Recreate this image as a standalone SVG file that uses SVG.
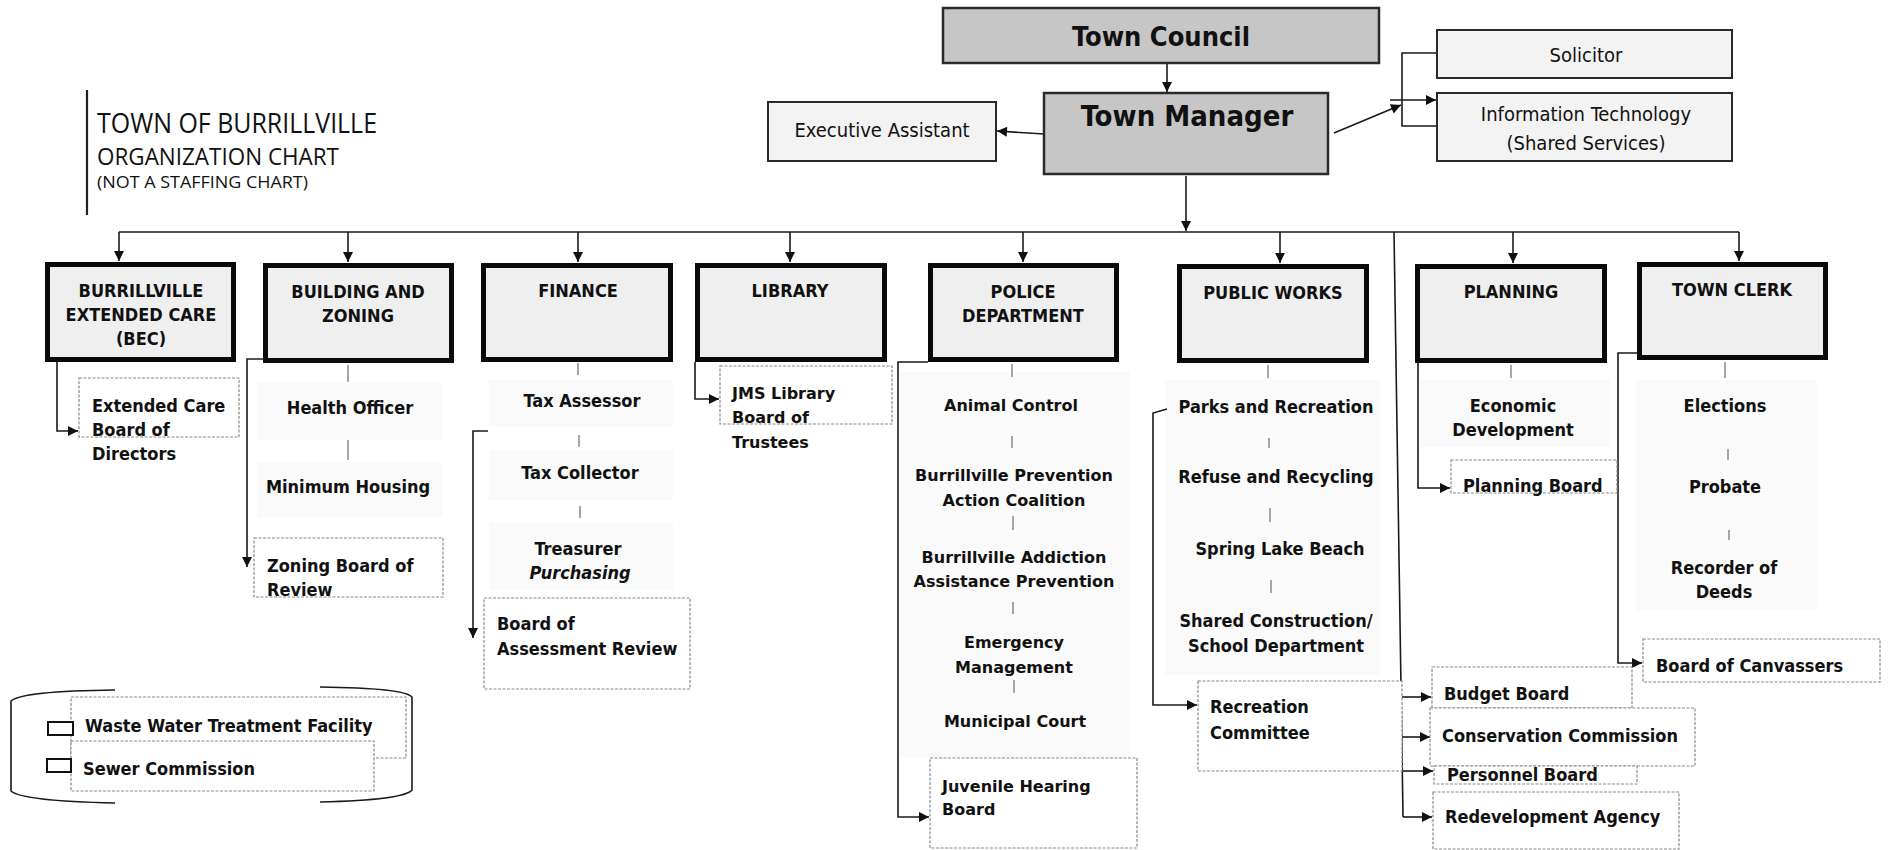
<svg xmlns="http://www.w3.org/2000/svg" width="1890" height="850" viewBox="0 0 1890 850">
<defs>
<marker id="ah" viewBox="0 0 10 10" refX="10" refY="5" markerWidth="12" markerHeight="10" markerUnits="userSpaceOnUse" orient="auto">
<path d="M0,0 L10,5 L0,10 z" fill="#111"/>
</marker>
<style>
.cb{font-family:"DejaVu Sans Condensed","DejaVu Sans",sans-serif;font-stretch:condensed;font-weight:bold;fill:#111}
.cn{font-family:"DejaVu Sans Condensed","DejaVu Sans",sans-serif;font-stretch:condensed;font-weight:normal;fill:#111}
.wb{font-family:"DejaVu Sans",sans-serif;font-weight:bold;fill:#111}
.lt{font-family:"Open Sans","Liberation Sans",sans-serif;font-weight:400;fill:#111}
.top{fill:#c6c6c6;stroke:#2a2a2a;stroke-width:2.5}
.side{fill:#f3f3f3;stroke:#2a2a2a;stroke-width:2}
.dept{fill:#efefef;stroke:#0a0a0a;stroke-width:5}
.sub{fill:#ffffff;stroke:#8a8a8a;stroke-width:1.2;stroke-dasharray:3 1.5}
.shade{fill:#fafafa}
.ln{fill:none;stroke:#1a1a1a;stroke-width:1.6}
.tk{fill:none;stroke:#8a8a8a;stroke-width:1.5}
.c{text-anchor:middle}
</style>
</defs>
<rect width="1890" height="850" fill="#ffffff"/>

<g id="title">
<line x1="87" y1="90" x2="87" y2="215" stroke="#222" stroke-width="2.2"/>
<text class="lt" x="97" y="133" font-size="27" textLength="280" lengthAdjust="spacingAndGlyphs">TOWN OF BURRILLVILLE</text>
<text class="lt" x="97" y="165" font-size="23" textLength="242" lengthAdjust="spacingAndGlyphs">ORGANIZATION CHART</text>
<text class="lt" x="97" y="188" font-size="16" textLength="211" lengthAdjust="spacingAndGlyphs">(NOT A STAFFING CHART)</text>
</g>

<g id="shading">
<rect class="shade" x="257" y="383" width="186" height="57"/>
<rect class="shade" x="257" y="463" width="186" height="54"/>
<rect class="shade" x="489" y="380" width="184" height="47"/>
<rect class="shade" x="489" y="450" width="184" height="50"/>
<rect class="shade" x="489" y="523" width="184" height="67"/>
<rect class="shade" x="900" y="372" width="230" height="386"/>
<rect class="shade" x="1165" y="380" width="215" height="295"/>
<rect class="shade" x="1420" y="380" width="190" height="67"/>
<rect class="shade" x="1636" y="380" width="181" height="230"/>
</g>

<g id="connectors">
<line class="ln" x1="1167" y1="64" x2="1167" y2="92" marker-end="url(#ah)"/>
<line class="ln" x1="1044" y1="134" x2="997" y2="131" marker-end="url(#ah)"/>
<line class="ln" x1="1334" y1="133" x2="1401" y2="105" marker-end="url(#ah)"/>
<polyline class="ln" points="1437,53 1402,53 1402,126 1437,126"/>
<line class="ln" x1="1390" y1="100" x2="1436" y2="100" marker-end="url(#ah)"/>
<line class="ln" x1="1186" y1="176" x2="1186" y2="231" marker-end="url(#ah)"/>
<line class="ln" x1="119" y1="232" x2="1739" y2="232"/>
<line class="ln" x1="119" y1="232" x2="119" y2="261" marker-end="url(#ah)"/>
<line class="ln" x1="348" y1="232" x2="348" y2="262" marker-end="url(#ah)"/>
<line class="ln" x1="578" y1="232" x2="578" y2="262" marker-end="url(#ah)"/>
<line class="ln" x1="790" y1="232" x2="790" y2="262" marker-end="url(#ah)"/>
<line class="ln" x1="1023" y1="232" x2="1023" y2="262" marker-end="url(#ah)"/>
<line class="ln" x1="1280" y1="232" x2="1280" y2="263" marker-end="url(#ah)"/>
<line class="ln" x1="1513" y1="232" x2="1513" y2="263" marker-end="url(#ah)"/>
<line class="ln" x1="1739" y1="232" x2="1739" y2="261" marker-end="url(#ah)"/>
<line class="ln" x1="1394" y1="232" x2="1403" y2="817"/>
<line class="ln" x1="1401" y1="697" x2="1431" y2="697" marker-end="url(#ah)"/>
<line class="ln" x1="1402" y1="737" x2="1430" y2="737" marker-end="url(#ah)"/>
<line class="ln" x1="1402" y1="771" x2="1433" y2="771" marker-end="url(#ah)"/>
<line class="ln" x1="1403" y1="817" x2="1432" y2="817" marker-end="url(#ah)"/>
<polyline class="ln" points="57,362 57,431 78,431" marker-end="url(#ah)"/>
<polyline class="ln" points="263,359 247,359 247,567" marker-end="url(#ah)"/>
<polyline class="ln" points="488,431 473,431 473,638" marker-end="url(#ah)"/>
<polyline class="ln" points="695,362 695,399 719,399" marker-end="url(#ah)"/>
<polyline class="ln" points="928,362 898,362 898,817 929,817" marker-end="url(#ah)"/>
<polyline class="ln" points="1167,409 1153,413 1153,705 1197,705" marker-end="url(#ah)"/>
<polyline class="ln" points="1418,363 1418,488 1450,488" marker-end="url(#ah)"/>
<polyline class="ln" points="1637,353 1618,353 1618,663 1642,663" marker-end="url(#ah)"/>
<line class="tk" x1="348" y1="365" x2="348" y2="382"/>
<line class="tk" x1="348" y1="440" x2="348" y2="460"/>
<line class="tk" x1="578" y1="363" x2="578" y2="375"/>
<line class="tk" x1="579" y1="435" x2="579" y2="447"/>
<line class="tk" x1="580" y1="506" x2="580" y2="518"/>
<line class="tk" x1="1012" y1="364" x2="1012" y2="377"/>
<line class="tk" x1="1012" y1="436" x2="1012" y2="448"/>
<line class="tk" x1="1013" y1="516" x2="1013" y2="530"/>
<line class="tk" x1="1013" y1="602" x2="1013" y2="614"/>
<line class="tk" x1="1014" y1="680" x2="1014" y2="693"/>
<line class="tk" x1="1268" y1="365" x2="1268" y2="378"/>
<line class="tk" x1="1269" y1="438" x2="1269" y2="448"/>
<line class="tk" x1="1270" y1="508" x2="1270" y2="522"/>
<line class="tk" x1="1271" y1="580" x2="1271" y2="593"/>
<line class="tk" x1="1511" y1="365" x2="1511" y2="378"/>
<line class="tk" x1="1725" y1="362" x2="1725" y2="378"/>
<line class="tk" x1="1728" y1="449" x2="1728" y2="460"/>
<line class="tk" x1="1729" y1="530" x2="1729" y2="540"/>
</g>

<g id="town-council"><rect class="top" x="943" y="8" width="436" height="55"/><text class="cb c" x="1161" y="46" font-size="27">Town Council</text></g>
<g id="town-manager"><rect class="top" x="1044" y="93" width="284" height="81"/><text class="cb c" x="1187" y="126" font-size="29">Town Manager</text></g>
<g id="executive-assistant"><rect class="side" x="768" y="102" width="228" height="59"/><text class="cn c" x="882" y="137" font-size="20">Executive Assistant</text></g>
<g id="solicitor"><rect class="side" x="1437" y="30" width="295" height="48"/><text class="cn c" x="1586" y="62" font-size="20">Solicitor</text></g>
<g id="information-technology"><rect class="side" x="1437" y="93" width="295" height="68"/><text class="cn c" x="1586" y="121" font-size="20">Information Technology</text><text class="cn c" x="1586" y="150" font-size="20">(Shared Services)</text></g>

<g id="bec"><rect class="dept" x="47.5" y="264.5" width="186" height="95"/><text class="cb c" x="141" y="297" font-size="18">BURRILLVILLE</text><text class="cb c" x="141" y="321" font-size="18">EXTENDED CARE</text><text class="cb c" x="141" y="345" font-size="18">(BEC)</text></g>
<g id="building-zoning"><rect class="dept" x="265.5" y="265.5" width="186" height="95"/><text class="cb c" x="358" y="298" font-size="18">BUILDING AND</text><text class="cb c" x="358" y="322" font-size="18">ZONING</text></g>
<g id="finance"><rect class="dept" x="483.5" y="265.5" width="187" height="94"/><text class="cb c" x="578" y="297" font-size="18">FINANCE</text></g>
<g id="library"><rect class="dept" x="697.5" y="265.5" width="187" height="94"/><text class="cb c" x="790" y="297" font-size="18">LIBRARY</text></g>
<g id="police"><rect class="dept" x="930.5" y="265.5" width="186" height="94"/><text class="cb c" x="1023" y="298" font-size="18">POLICE</text><text class="cb c" x="1023" y="322" font-size="18">DEPARTMENT</text></g>
<g id="public-works"><rect class="dept" x="1179.5" y="266.5" width="187" height="94"/><text class="cb c" x="1273" y="299" font-size="18">PUBLIC WORKS</text></g>
<g id="planning"><rect class="dept" x="1417.5" y="266.5" width="187" height="94"/><text class="cb c" x="1511" y="298" font-size="18">PLANNING</text></g>
<g id="town-clerk"><rect class="dept" x="1639.5" y="264.5" width="186" height="93"/><text class="cb c" x="1732" y="296" font-size="18">TOWN CLERK</text></g>

<g id="extended-care-board"><rect class="sub" x="79" y="378" width="160" height="59"/><text class="cb" x="92" y="412" font-size="18">Extended Care</text><text class="cb" x="92" y="436" font-size="18">Board of</text><text class="cb" x="92" y="460" font-size="18">Directors</text></g>
<g id="health-officer"><text class="cb c" x="350" y="414" font-size="18">Health Officer</text></g>
<g id="minimum-housing"><text class="cb c" x="348" y="493" font-size="18">Minimum Housing</text></g>
<g id="zoning-board"><rect class="sub" x="254" y="538" width="189" height="59"/><text class="cb" x="267" y="572" font-size="18">Zoning Board of</text><text class="cb" x="267" y="596" font-size="18">Review</text></g>
<g id="tax-assessor"><text class="cb c" x="582" y="407" font-size="18">Tax Assessor</text></g>
<g id="tax-collector"><text class="cb c" x="580" y="479" font-size="18">Tax Collector</text></g>
<g id="treasurer"><text class="cb c" x="578" y="555" font-size="18">Treasurer</text><text class="cb c" x="580" y="579" font-size="18" font-style="italic">Purchasing</text></g>
<g id="board-assessment-review"><rect class="sub" x="484" y="598" width="206" height="91"/><text class="cb" x="497" y="630" font-size="18">Board of</text><text class="cb" x="497" y="655" font-size="18">Assessment Review</text></g>
<g id="jms-library-board"><rect class="sub" x="720" y="366" width="172" height="58"/><text class="wb" x="732" y="399" font-size="16">JMS Library</text><text class="wb" x="732" y="423" font-size="16">Board of</text><text class="wb" x="732" y="448" font-size="16">Trustees</text></g>
<g id="animal-control"><text class="wb c" x="1011" y="411" font-size="16">Animal Control</text></g>
<g id="bpac"><text class="wb c" x="1014" y="481" font-size="16">Burrillville Prevention</text><text class="wb c" x="1014" y="506" font-size="16">Action Coalition</text></g>
<g id="baap"><text class="wb c" x="1014" y="563" font-size="16">Burrillville Addiction</text><text class="wb c" x="1014" y="587" font-size="16">Assistance Prevention</text></g>
<g id="emergency-management"><text class="wb c" x="1014" y="648" font-size="16">Emergency</text><text class="wb c" x="1014" y="673" font-size="16">Management</text></g>
<g id="municipal-court"><text class="wb c" x="1015" y="727" font-size="16">Municipal Court</text></g>
<g id="juvenile-hearing-board"><rect class="sub" x="930" y="758" width="207" height="90"/><text class="wb" x="942" y="792" font-size="16">Juvenile Hearing</text><text class="wb" x="942" y="815" font-size="16">Board</text></g>
<g id="parks-recreation"><text class="cb c" x="1276" y="413" font-size="18">Parks and Recreation</text></g>
<g id="refuse-recycling"><text class="cb c" x="1276" y="483" font-size="18">Refuse and Recycling</text></g>
<g id="spring-lake-beach"><text class="cb c" x="1280" y="555" font-size="18">Spring Lake Beach</text></g>
<g id="shared-construction"><text class="cb c" x="1276" y="627" font-size="18">Shared Construction/</text><text class="cb c" x="1276" y="652" font-size="18">School Department</text></g>
<g id="recreation-committee"><rect class="sub" x="1198" y="681" width="204" height="90"/><text class="cb" x="1210" y="713" font-size="18">Recreation</text><text class="cb" x="1210" y="739" font-size="18">Committee</text></g>
<g id="economic-development"><text class="cb c" x="1513" y="412" font-size="18">Economic</text><text class="cb c" x="1513" y="436" font-size="18">Development</text></g>
<g id="planning-board"><rect class="sub" x="1451" y="460" width="166" height="33"/><text class="cb" x="1463" y="492" font-size="18">Planning Board</text></g>
<g id="elections"><text class="cb c" x="1725" y="412" font-size="18">Elections</text></g>
<g id="probate"><text class="cb c" x="1725" y="493" font-size="18">Probate</text></g>
<g id="recorder-of-deeds"><text class="cb c" x="1724" y="574" font-size="18">Recorder of</text><text class="cb c" x="1724" y="598" font-size="18">Deeds</text></g>
<g id="board-of-canvassers"><rect class="sub" x="1643" y="639" width="237" height="43"/><text class="cb" x="1656" y="672" font-size="18">Board of Canvassers</text></g>
<g id="budget-board"><rect class="sub" x="1432" y="667" width="200" height="41"/><text class="cb" x="1444" y="700" font-size="18">Budget Board</text></g>
<g id="conservation-commission"><rect class="sub" x="1430" y="708" width="265" height="58"/><text class="cb" x="1442" y="742" font-size="18">Conservation Commission</text></g>
<g id="personnel-board"><rect class="sub" x="1434" y="766" width="203" height="18"/><text class="cb" x="1447" y="781" font-size="18">Personnel Board</text></g>
<g id="redevelopment-agency"><rect class="sub" x="1433" y="792" width="246" height="57"/><text class="cb" x="1445" y="823" font-size="18">Redevelopment Agency</text></g>

<g id="legend">
<path class="ln" d="M115,690 Q22,691 11,701 L11,791 Q22,801 115,803"/>
<path class="ln" d="M320,687 Q404,688 412,697 L412,790 Q404,800 320,802"/>
<rect class="sub" x="71" y="697" width="335" height="61"/>
<rect class="sub" x="71" y="741" width="303" height="50"/>
<rect x="48" y="722" width="25" height="13" fill="#fff" stroke="#111" stroke-width="2"/>
<rect x="47" y="759" width="24" height="13" fill="#fff" stroke="#111" stroke-width="2"/>
<text class="cb" x="85" y="732" font-size="18">Waste Water Treatment Facility</text>
<text class="cb" x="83" y="775" font-size="18">Sewer Commission</text>
</g>
</svg>
